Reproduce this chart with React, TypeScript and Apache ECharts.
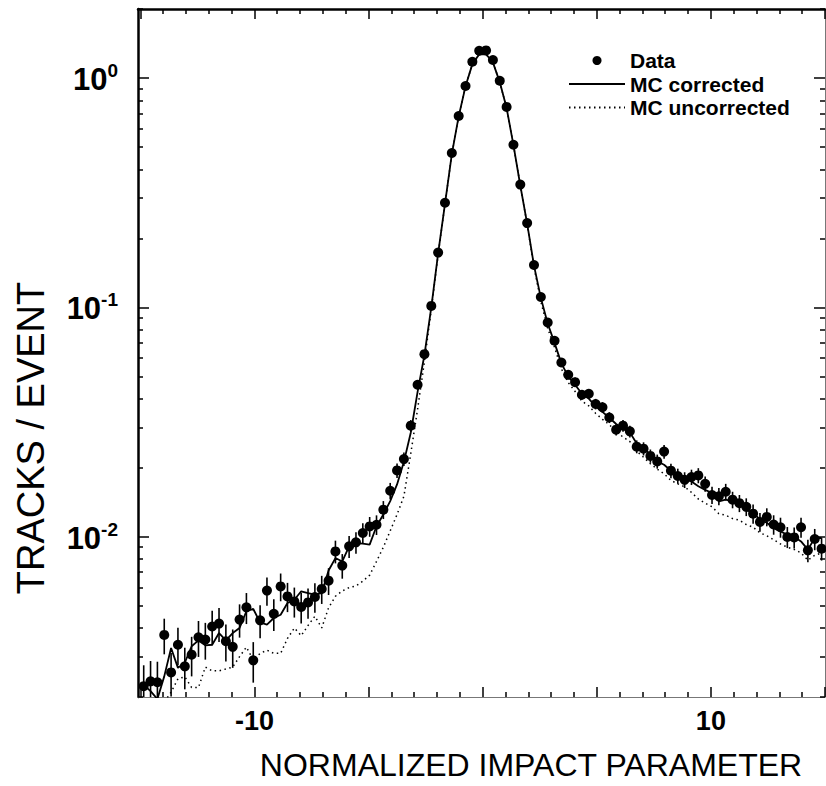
import React, { useEffect, useRef } from "react";
import * as echarts from "echarts";

// Bin centres of the normalized impact parameter histogram
const binCenters = [
  -14.85, -14.55, -14.25, -13.95, -13.65, -13.35, -13.05, -12.75, -12.45, -12.15,
  -11.85, -11.55, -11.25, -10.95, -10.65, -10.35, -10.05, -9.75, -9.45, -9.15,
  -8.85, -8.55, -8.25, -7.95, -7.65, -7.35, -7.05, -6.75, -6.45, -6.15,
  -5.85, -5.55, -5.25, -4.95, -4.65, -4.35, -4.05, -3.75, -3.45, -3.15,
  -2.85, -2.55, -2.25, -1.95, -1.65, -1.35, -1.05, -0.75, -0.45, -0.15,
  0.15, 0.45, 0.75, 1.05, 1.35, 1.65, 1.95, 2.25, 2.55, 2.85,
  3.15, 3.45, 3.75, 4.05, 4.35, 4.65, 4.95, 5.25, 5.55, 5.85,
  6.15, 6.45, 6.75, 7.05, 7.35, 7.65, 7.95, 8.25, 8.55, 8.85,
  9.15, 9.45, 9.75, 10.05, 10.35, 10.65, 10.95, 11.25, 11.55, 11.85,
  12.15, 12.45, 12.75, 13.05, 13.35, 13.65, 13.95, 14.25, 14.55, 14.85,
];

// Data (tracks / event)
const dataValues = [
  0.00223, 0.00234, 0.00232, 0.00373, 0.00256, 0.00338, 0.00272, 0.00306, 0.00364, 0.00356,
  0.00406, 0.00418, 0.0035, 0.00331, 0.00435, 0.00492, 0.00289, 0.00432, 0.00582, 0.00461,
  0.00607, 0.00549, 0.00522, 0.00494, 0.00517, 0.00546, 0.00592, 0.00643, 0.00863, 0.00748,
  0.00908, 0.00945, 0.01038, 0.01109, 0.01128, 0.01312, 0.01586, 0.01945, 0.0218, 0.0305,
  0.046, 0.0625, 0.1015, 0.1733, 0.286, 0.471, 0.683, 0.923, 1.178, 1.315,
  1.32, 1.198, 0.973, 0.748, 0.512, 0.343, 0.233, 0.153, 0.111, 0.0859,
  0.0715, 0.0575, 0.0508, 0.0472, 0.0416, 0.042, 0.0379, 0.0367, 0.0331, 0.0293,
  0.0305, 0.0288, 0.0247, 0.0242, 0.0225, 0.0213, 0.0235, 0.0194, 0.0184, 0.0177,
  0.0182, 0.0185, 0.017, 0.0152, 0.015, 0.0157, 0.0145, 0.014, 0.0135, 0.0126,
  0.0116, 0.0122, 0.0113, 0.011, 0.00997, 0.00993, 0.011, 0.00872, 0.00977, 0.00887,
];

// Statistical errors on the data
const dataErrors = [
  0.00052, 0.00053, 0.00053, 0.00066, 0.00055, 0.00063, 0.00056, 0.0006, 0.00065, 0.00065,
  0.0007, 0.00071, 0.00064, 0.00063, 0.00072, 0.00076, 0.00058, 0.00071, 0.00082, 0.00073,
  0.00084, 0.0008, 0.00078, 0.00076, 0.00078, 0.0008, 0.00083, 0.00086, 0.00098, 0.00092,
  0.001, 0.00102, 0.00106, 0.0011, 0.00111, 0.00118, 0.0013, 0.0014, 0.00148, 0.00175,
  0.00214, 0.0025, 0.0031, 0.0041, 0.0052, 0.0066, 0.0079, 0.0092, 0.0104, 0.011,
  0.011, 0.0105, 0.0095, 0.0083, 0.0069, 0.0057, 0.0047, 0.0038, 0.0033, 0.0029,
  0.0026, 0.0024, 0.0022, 0.0022, 0.002, 0.002, 0.002, 0.0019, 0.0018, 0.0017,
  0.0018, 0.0017, 0.0016, 0.0016, 0.0015, 0.0015, 0.0016, 0.0014, 0.0014, 0.0014,
  0.0014, 0.0014, 0.0013, 0.0013, 0.0013, 0.0013, 0.0012, 0.0012, 0.0012, 0.0012,
  0.0011, 0.0011, 0.0011, 0.0011, 0.00105, 0.00105, 0.0011, 0.00099, 0.00104, 0.001,
];

// Monte Carlo, corrected
const mcCorrected = [
  0.00226, 0.00212, 0.00196, 0.00246, 0.00327, 0.00268, 0.00282, 0.00333, 0.00353, 0.00336,
  0.00338, 0.0038, 0.00353, 0.0038, 0.004, 0.00473, 0.00484, 0.00423, 0.00414, 0.00442,
  0.00457, 0.00514, 0.00531, 0.00578, 0.00568, 0.00559, 0.00568, 0.00712, 0.00807, 0.0078,
  0.00908, 0.00938, 0.00932, 0.00923, 0.0111, 0.0125, 0.0143, 0.0169, 0.0212, 0.0284,
  0.0428, 0.062, 0.1, 0.172, 0.283, 0.466, 0.68, 0.92, 1.15, 1.27,
  1.27, 1.17, 0.96, 0.74, 0.51, 0.34, 0.232, 0.152, 0.11, 0.085,
  0.07, 0.057, 0.05, 0.046, 0.042, 0.04, 0.037, 0.035, 0.033, 0.031,
  0.0295, 0.0285, 0.0255, 0.0243, 0.0228, 0.0213, 0.0206, 0.0194, 0.0188, 0.0182,
  0.0174, 0.0166, 0.016, 0.0155, 0.01425, 0.0145, 0.01425, 0.0138, 0.0131, 0.0127,
  0.0119, 0.0115, 0.0109, 0.01055, 0.0102, 0.01, 0.00954, 0.00878, 0.00987, 0.00987,
];

// Monte Carlo, uncorrected
const mcUncorrected = [
  0.0017, 0.0018, 0.0018, 0.0019, 0.0021, 0.0024, 0.00245, 0.0022, 0.0022, 0.0027,
  0.0026, 0.0026, 0.00265, 0.0027, 0.003, 0.0033, 0.0029, 0.0031, 0.0032, 0.0031,
  0.0031, 0.0036, 0.004, 0.0037, 0.0041, 0.0045, 0.004, 0.0049, 0.0055, 0.0058,
  0.006, 0.0061, 0.0064, 0.0068, 0.0078, 0.009, 0.0106, 0.0125, 0.015, 0.023,
  0.036, 0.058, 0.098, 0.17, 0.282, 0.465, 0.68, 0.92, 1.15, 1.27,
  1.27, 1.17, 0.96, 0.74, 0.51, 0.34, 0.23, 0.15, 0.106, 0.081,
  0.067, 0.054, 0.047, 0.043, 0.039, 0.0372, 0.0345, 0.0325, 0.0308, 0.0288,
  0.0272, 0.026, 0.0236, 0.0222, 0.0208, 0.0197, 0.0188, 0.0176, 0.017, 0.0165,
  0.0156, 0.0146, 0.014, 0.0135, 0.0126, 0.0124, 0.012, 0.0118, 0.0113, 0.011,
  0.0104, 0.0101, 0.0097, 0.0093, 0.009, 0.0088, 0.0085, 0.0079, 0.0083, 0.0085,
];

const xMajorTicks = [-15, -10, -5, 0, 5, 10, 15];
const xMinorTicks = [-14, -13, -12, -11, -9, -8, -7, -6, -4, -3, -2, -1, 1, 2, 3, 4, 6, 7, 8, 9, 11, 12, 13, 14];
const xTickLabels = [-10, 10];
const yMajorTicks = [0.01, 0.1, 1];
const yMinorTicks = [
  0.002, 0.003, 0.004, 0.005, 0.006, 0.007, 0.008, 0.009,
  0.02, 0.03, 0.04, 0.05, 0.06, 0.07, 0.08, 0.09,
  0.2, 0.3, 0.4, 0.5, 0.6, 0.7, 0.8, 0.9, 2,
];
const yTickLabels = [0.01, 0.1, 1];
const yTickExponents = ["-2", "-1", "0"];

const X_MIN = -15.1;
const X_MAX = 15;
const Y_MIN = 0.002;
const Y_MAX = 2;

const FONT = "'Liberation Sans', Arial, Helvetica, sans-serif";

export default function App() {
  const ref = useRef<HTMLDivElement>(null);

  useEffect(() => {
    if (!ref.current) return;
    const chart = echarts.init(ref.current, undefined, { renderer: "svg" });

    const xAxisBase = (position: string, ticks: number[], len: number, line: any, labels: any) => ({
      type: "value",
      min: X_MIN,
      max: X_MAX,
      position,
      axisLine: line,
      axisTick: {
        show: true,
        inside: true,
        length: len,
        customValues: ticks,
        lineStyle: { color: "#000", width: 1.5 },
      },
      axisLabel: labels,
      splitLine: { show: false },
    });

    const yAxisBase = (position: string, ticks: number[], len: number, line: any, labels: any) => ({
      type: "log",
      logBase: 10,
      min: Y_MIN,
      max: Y_MAX,
      position,
      axisLine: line,
      axisTick: {
        show: true,
        inside: true,
        length: len,
        customValues: ticks,
        lineStyle: { color: "#000", width: 1.5 },
      },
      axisLabel: labels,
      splitLine: { show: false },
      minorTick: { show: false },
    });

    const thick = { show: true, onZero: false, lineStyle: { color: "#000", width: 2.5 } };
    const thin = { show: true, onZero: false, lineStyle: { color: "#777", width: 1 } };
    const none = { show: false, onZero: false };
    const noLabel = { show: false };
    const hiddenSymbol = { color: "rgba(0,0,0,0)", borderColor: "rgba(0,0,0,0)", borderWidth: 0, opacity: 0 };

    const option: any = {
      animation: false,
      backgroundColor: "#fff",
      grid: { left: 138, top: 9, width: 687, height: 688, containLabel: false },
      xAxis: [
        xAxisBase("bottom", xMajorTicks, 10, thin, {
          show: true,
          customValues: xTickLabels,
          formatter: (v: number) => (v < 0 ? "-" + Math.abs(v) : String(v)),
          margin: 10,
          color: "#000",
          fontFamily: FONT,
          fontWeight: "bold",
          fontSize: 27,
        }),
        xAxisBase("bottom", xMinorTicks, 5, none, noLabel),
        xAxisBase("top", xMajorTicks, 10, thick, noLabel),
        xAxisBase("top", xMinorTicks, 5, none, noLabel),
      ],
      yAxis: [
        yAxisBase("left", yMajorTicks, 11, thick, {
          show: true,
          customValues: yTickLabels,
          margin: 20,
          formatter: (v: number) => {
            const idx = yTickLabels.findIndex((t) => Math.abs(Math.log10(t) - Math.log10(v)) < 1e-6);
            return "{b|10}{s|" + (idx >= 0 ? yTickExponents[idx] : "") + "}";
          },
          rich: {
            b: {
              fontFamily: FONT,
              fontWeight: "bold",
              fontSize: 31,
              color: "#000",
              lineHeight: 34,
              verticalAlign: "bottom",
            },
            s: {
              fontFamily: FONT,
              fontWeight: "bold",
              fontSize: 19,
              color: "#000",
              lineHeight: 19,
              verticalAlign: "top",
            },
          },
        }),
        yAxisBase("left", yMinorTicks, 5, none, noLabel),
        yAxisBase("right", yMajorTicks, 11, thin, noLabel),
        yAxisBase("right", yMinorTicks, 5, none, noLabel),
      ],
      legend: {
        orient: "vertical",
        left: 568,
        top: 50,
        itemWidth: 56,
        itemHeight: 9,
        itemGap: 2.5,
        itemTextGap: 8,
        padding: 0,
        data: [
          { name: "Data", icon: "circle" },
          { name: "MC corrected", itemStyle: hiddenSymbol },
          { name: "MC uncorrected", itemStyle: hiddenSymbol },
        ],
        textStyle: {
          fontFamily: FONT,
          fontWeight: "bold",
          fontSize: 21,
          lineHeight: 21,
          color: "#000",
        },
      },
      graphic: [
        {
          type: "text",
          x: 531,
          y: 765,
          style: {
            text: "NORMALIZED IMPACT PARAMETER",
            font: "normal 32px " + FONT,
            fill: "#000",
            align: "center",
            verticalAlign: "middle",
          },
        },
        {
          type: "text",
          x: 31,
          y: 438,
          rotation: Math.PI / 2,
          style: {
            text: "TRACKS / EVENT",
            font: "normal 38px " + FONT,
            fill: "#000",
            align: "center",
            verticalAlign: "middle",
          },
        },
      ],
      series: [
        {
          type: "line",
          name: "MC uncorrected",
          xAxisIndex: 0,
          yAxisIndex: 0,
          data: binCenters.map((x, i) => [x, mcUncorrected[i]]),
          symbol: "none",
          lineStyle: { color: "#000", width: 1.5, type: [1.5, 3.5] },
          itemStyle: { color: "#000" },
          z: 2,
        },
        {
          type: "line",
          name: "MC corrected",
          xAxisIndex: 0,
          yAxisIndex: 0,
          data: binCenters.map((x, i) => [x, mcCorrected[i]]),
          symbol: "none",
          lineStyle: { color: "#000", width: 1.8 },
          itemStyle: { color: "#000" },
          z: 3,
        },
        {
          type: "custom",
          name: "errors",
          xAxisIndex: 0,
          yAxisIndex: 0,
          data: binCenters.map((x, i) => [x, dataValues[i] - dataErrors[i], dataValues[i] + dataErrors[i]]),
          encode: { x: 0, y: [1, 2] },
          renderItem: (params: any, api: any) => {
            const lo = api.coord([api.value(0), api.value(1)]);
            const hi = api.coord([api.value(0), api.value(2)]);
            return {
              type: "line",
              shape: { x1: lo[0], y1: lo[1], x2: hi[0], y2: hi[1] },
              style: { stroke: "#000", lineWidth: 1.6 },
            };
          },
          clip: true,
          z: 4,
        },
        {
          type: "scatter",
          name: "Data",
          xAxisIndex: 0,
          yAxisIndex: 0,
          data: binCenters.map((x, i) => [x, dataValues[i]]),
          symbol: "circle",
          symbolSize: 10,
          itemStyle: { color: "#000", opacity: 1 },
          clip: true,
          z: 5,
        },
      ],
    };

    chart.setOption(option);
    return () => chart.dispose();
  }, []);

  return (
    <div
      ref={ref}
      style={{ position: "fixed", left: 0, top: 0, width: 826, height: 786, background: "#fff" }}
    />
  );
}
